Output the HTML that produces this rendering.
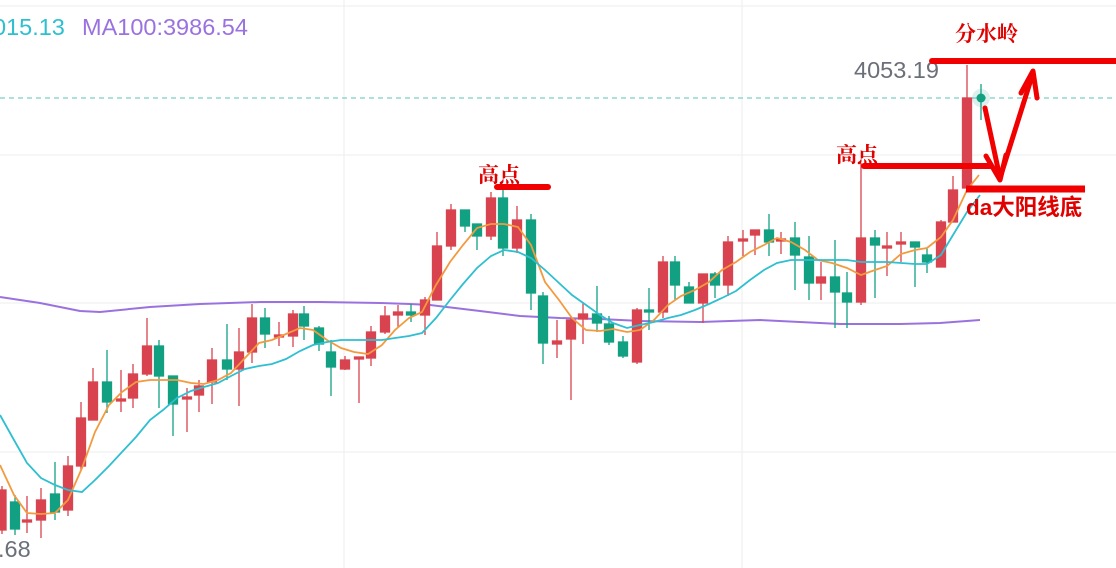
<!DOCTYPE html>
<html><head><meta charset="utf-8"><style>
html,body{margin:0;padding:0;background:#fff;width:1116px;height:568px;overflow:hidden}
svg{display:block}
</style></head><body>
<svg width="1116" height="568" viewBox="0 0 1116 568" xmlns="http://www.w3.org/2000/svg">
<g stroke="#eeeeee" stroke-width="1">
<line x1="0" y1="6" x2="1116" y2="6"/>
<line x1="0" y1="155" x2="1116" y2="155"/>
<line x1="0" y1="303" x2="1116" y2="303"/>
<line x1="0" y1="452" x2="1116" y2="452"/>
<line x1="344" y1="0" x2="344" y2="568"/>
<line x1="742" y1="0" x2="742" y2="568"/>
</g>
<line x1="0" y1="98" x2="1116" y2="98" stroke="#7ccfc8" stroke-width="1.2" stroke-dasharray="5,4"/>
<polyline fill="none" stroke="#9a72e0" stroke-width="2" points="0,297 40,303 80,311 100,312 150,307 200,304 260,302 320,302 380,303 410,304 430,305 480,311 520,316 560,318 600,319 640,321 700,322 760,320 840,324 900,324 940,323 980,320"/>
<g stroke-width="1.3">
<g stroke="#d9434f" fill="#d9434f">
<line x1="2" y1="486" x2="2" y2="534"/><rect x="-3" y="490" width="9" height="40"/>
<line x1="27" y1="496" x2="27" y2="533"/><rect x="22.5" y="520" width="9" height="2"/>
<line x1="41" y1="488" x2="41" y2="538"/><rect x="36.5" y="500" width="9" height="20"/>
<line x1="68" y1="456" x2="68" y2="516"/><rect x="63.5" y="466" width="9" height="44"/>
<line x1="81" y1="402" x2="81" y2="470"/><rect x="76.5" y="418" width="9" height="48"/>
<line x1="93" y1="368" x2="93" y2="420"/><rect x="88.5" y="382" width="9" height="38"/>
<line x1="121" y1="370" x2="121" y2="412"/><rect x="116.5" y="399" width="9" height="2"/>
<line x1="133" y1="364" x2="133" y2="408"/><rect x="128.5" y="374" width="9" height="24"/>
<line x1="147" y1="318" x2="147" y2="376"/><rect x="142.5" y="346" width="9" height="28"/>
<line x1="187" y1="388" x2="187" y2="432"/><rect x="182.5" y="397" width="9" height="2"/>
<line x1="199" y1="380" x2="199" y2="412"/><rect x="194.5" y="386" width="9" height="9"/>
<line x1="212" y1="348" x2="212" y2="404"/><rect x="207.5" y="360" width="9" height="22"/>
<line x1="239" y1="328" x2="239" y2="406"/><rect x="234.5" y="352" width="9" height="17"/>
<line x1="252" y1="304" x2="252" y2="363"/><rect x="247.5" y="318" width="9" height="34"/>
<line x1="279" y1="322" x2="279" y2="346"/><rect x="274.5" y="335" width="9" height="2"/>
<line x1="293" y1="310" x2="293" y2="347"/><rect x="288.5" y="314" width="9" height="22"/>
<line x1="345" y1="356" x2="345" y2="370"/><rect x="340.5" y="360" width="9" height="9"/>
<line x1="359" y1="358" x2="359" y2="403"/><rect x="354.5" y="357" width="9" height="2"/>
<line x1="371" y1="326" x2="371" y2="366"/><rect x="366.5" y="332" width="9" height="26"/>
<line x1="385" y1="306" x2="385" y2="334"/><rect x="380.5" y="316" width="9" height="16"/>
<line x1="398" y1="305" x2="398" y2="327"/><rect x="393.5" y="312" width="9" height="3"/>
<line x1="425" y1="297" x2="425" y2="335"/><rect x="420.5" y="300" width="9" height="15"/>
<line x1="437" y1="232" x2="437" y2="300"/><rect x="432.5" y="246" width="9" height="54"/>
<line x1="451" y1="204" x2="451" y2="250"/><rect x="446.5" y="210" width="9" height="36"/>
<line x1="491" y1="192" x2="491" y2="240"/><rect x="486.5" y="198" width="9" height="38"/>
<line x1="517" y1="206" x2="517" y2="253"/><rect x="512.5" y="220" width="9" height="28"/>
<line x1="557" y1="320" x2="557" y2="358"/><rect x="552.5" y="341" width="9" height="3"/>
<line x1="571" y1="316" x2="571" y2="400"/><rect x="566.5" y="320" width="9" height="19"/>
<line x1="583" y1="302" x2="583" y2="344"/><rect x="578.5" y="314" width="9" height="5"/>
<line x1="637" y1="308" x2="637" y2="364"/><rect x="632.5" y="310" width="9" height="52"/>
<line x1="663" y1="256" x2="663" y2="318"/><rect x="658.5" y="262" width="9" height="50"/>
<line x1="703" y1="274" x2="703" y2="323"/><rect x="698.5" y="274" width="9" height="29"/>
<line x1="728" y1="236" x2="728" y2="296"/><rect x="723.5" y="242" width="9" height="43"/>
<line x1="743" y1="230" x2="743" y2="256"/><rect x="738.5" y="239" width="9" height="2"/>
<line x1="755" y1="230" x2="755" y2="255"/><rect x="750.5" y="230" width="9" height="5"/>
<line x1="781" y1="232" x2="781" y2="254"/><rect x="776.5" y="239" width="9" height="2"/>
<line x1="821" y1="262" x2="821" y2="300"/><rect x="816.5" y="277" width="9" height="6"/>
<line x1="861" y1="163" x2="861" y2="305"/><rect x="856.5" y="238" width="9" height="64"/>
<line x1="887" y1="232" x2="887" y2="276"/><rect x="882.5" y="246" width="9" height="2"/>
<line x1="901" y1="232" x2="901" y2="262"/><rect x="896.5" y="242" width="9" height="2"/>
<line x1="941" y1="220" x2="941" y2="267"/><rect x="936.5" y="222" width="9" height="45"/>
<line x1="953" y1="176" x2="953" y2="222"/><rect x="948.5" y="190" width="9" height="32"/>
<line x1="967" y1="65" x2="967" y2="188"/><rect x="962.5" y="98" width="9" height="90"/>
</g>
<g stroke="#12a083" fill="#12a083">
<line x1="15" y1="495" x2="15" y2="535"/><rect x="10.5" y="502" width="9" height="27"/>
<line x1="55" y1="462" x2="55" y2="520"/><rect x="50.5" y="494" width="9" height="18"/>
<line x1="107" y1="350" x2="107" y2="413"/><rect x="102.5" y="382" width="9" height="20"/>
<line x1="159" y1="340" x2="159" y2="408"/><rect x="154.5" y="346" width="9" height="30"/>
<line x1="173" y1="376" x2="173" y2="436"/><rect x="168.5" y="376" width="9" height="28"/>
<line x1="227" y1="324" x2="227" y2="380"/><rect x="222.5" y="360" width="9" height="9"/>
<line x1="265" y1="308" x2="265" y2="348"/><rect x="260.5" y="318" width="9" height="16"/>
<line x1="304" y1="306" x2="304" y2="340"/><rect x="299.5" y="314" width="9" height="12"/>
<line x1="319" y1="326" x2="319" y2="351"/><rect x="314.5" y="328" width="9" height="16"/>
<line x1="331" y1="340" x2="331" y2="396"/><rect x="326.5" y="352" width="9" height="15"/>
<line x1="411" y1="304" x2="411" y2="322"/><rect x="406.5" y="312" width="9" height="3"/>
<line x1="465" y1="210" x2="465" y2="232"/><rect x="460.5" y="210" width="9" height="16"/>
<line x1="477" y1="224" x2="477" y2="250"/><rect x="472.5" y="224" width="9" height="12"/>
<line x1="503" y1="190" x2="503" y2="256"/><rect x="498.5" y="198" width="9" height="50"/>
<line x1="531" y1="214" x2="531" y2="310"/><rect x="526.5" y="220" width="9" height="73"/>
<line x1="543" y1="292" x2="543" y2="364"/><rect x="538.5" y="296" width="9" height="47"/>
<line x1="597" y1="286" x2="597" y2="332"/><rect x="592.5" y="314" width="9" height="9"/>
<line x1="609" y1="316" x2="609" y2="345"/><rect x="604.5" y="324" width="9" height="18"/>
<line x1="623" y1="336" x2="623" y2="358"/><rect x="618.5" y="342" width="9" height="14"/>
<line x1="649" y1="288" x2="649" y2="330"/><rect x="644.5" y="310" width="9" height="2"/>
<line x1="675" y1="256" x2="675" y2="300"/><rect x="670.5" y="262" width="9" height="23"/>
<line x1="689" y1="282" x2="689" y2="303"/><rect x="684.5" y="287" width="9" height="16"/>
<line x1="715" y1="272" x2="715" y2="298"/><rect x="710.5" y="274" width="9" height="11"/>
<line x1="769" y1="214" x2="769" y2="256"/><rect x="764.5" y="230" width="9" height="12"/>
<line x1="795" y1="222" x2="795" y2="290"/><rect x="790.5" y="238" width="9" height="17"/>
<line x1="809" y1="236" x2="809" y2="300"/><rect x="804.5" y="257" width="9" height="26"/>
<line x1="835" y1="240" x2="835" y2="328"/><rect x="830.5" y="277" width="9" height="15"/>
<line x1="847" y1="272" x2="847" y2="328"/><rect x="842.5" y="293" width="9" height="9"/>
<line x1="875" y1="230" x2="875" y2="298"/><rect x="870.5" y="238" width="9" height="7"/>
<line x1="915" y1="242" x2="915" y2="287"/><rect x="910.5" y="242" width="9" height="5"/>
<line x1="927" y1="248" x2="927" y2="273"/><rect x="922.5" y="255" width="9" height="7"/>
<line x1="981" y1="84" x2="981" y2="120"/>
</g>
</g>
<polyline fill="none" stroke="#f39a3e" stroke-width="1.8" points="0,465 14,495 27,513 41,514 55,513 68,500 82,468 95,432 109,405 122,392 136,382 150,380 163,380 177,380 191,383 204,384 218,380 231,373 245,358 259,343 272,340 286,334 300,328 313,330 327,340 341,348 354,352 368,354 382,345 395,330 409,318 422,312 436,285 450,262 463,245 477,228 491,224 504,224 518,227 531,245 545,282 559,300 572,318 586,330 600,331 613,329 627,332 640,330 654,320 668,305 681,296 695,290 709,282 722,270 736,262 750,252 764,245 777,238 791,242 805,250 818,260 832,263 847,268 861,275 875,270 887,266 901,254 915,250 927,248 941,237 953,220 967,190 979,175"/>
<polyline fill="none" stroke="#2ebfd0" stroke-width="1.8" points="0,415 14,440 27,463 41,478 55,485 68,490 82,492 95,480 109,466 122,452 136,437 150,420 163,410 177,398 191,391 204,387 218,383 231,376 245,369 259,366 272,364 286,359 300,351 313,345 327,342 341,340 354,340 368,340 382,340 395,338 409,336 422,333 436,318 450,300 463,284 477,268 491,256 504,250 518,252 531,258 545,270 559,283 572,295 586,305 600,315 613,323 627,328 640,325 654,322 668,318 681,315 695,310 709,304 722,298 736,291 750,280 764,270 777,263 791,260 805,260 818,260 832,260 847,260 861,262 875,262 887,262 901,263 915,264 927,264 941,255 953,235 967,212 980,195"/>
<circle cx="981" cy="98" r="9" fill="#12a083" opacity="0.15"/>
<circle cx="981" cy="98" r="4.5" fill="#12a083"/>
<g font-family="Liberation Sans, sans-serif" font-size="23.5">
<text x="-7" y="35" fill="#2ebfd0">015.13</text>
<text x="82" y="35" fill="#9a72e0">MA100:3986.54</text>
<text x="854" y="78" fill="#6b6f7a">4053.19</text>
<text x="-2" y="557" fill="#6b6f7a">.68</text>
</g>
<g stroke="#f00000" stroke-linecap="round" fill="none">
<line x1="497" y1="187" x2="548" y2="187" stroke-width="6"/>
<line x1="864" y1="166" x2="990" y2="166" stroke-width="6"/>
<line x1="932" y1="61" x2="1116" y2="61" stroke-width="6"/>
<line x1="966" y1="189" x2="1085" y2="189" stroke-width="7" stroke-linecap="butt"/>
<polyline points="985,108 1000,178 1033,73" stroke-width="5" stroke-linejoin="round"/>
<polyline points="986,156 1000,180 1006,155" stroke-width="5" stroke-linejoin="round"/>
<polyline points="1021,93 1033,71 1037,98" stroke-width="5" stroke-linejoin="round"/>
</g>
<g fill="#e00000" font-family="Liberation Serif, 'Noto Serif CJK SC', serif" font-size="21" font-weight="bold">
<text x="478" y="182">高点</text>
<text x="836" y="162">高点</text>
<text x="955" y="41">分水岭</text>
</g>
<text x="966" y="215" fill="#e00000" font-family="Liberation Sans, 'Noto Sans CJK SC', sans-serif" font-size="22.5" font-weight="bold">da大阳线底</text>
</svg>
</body></html>
